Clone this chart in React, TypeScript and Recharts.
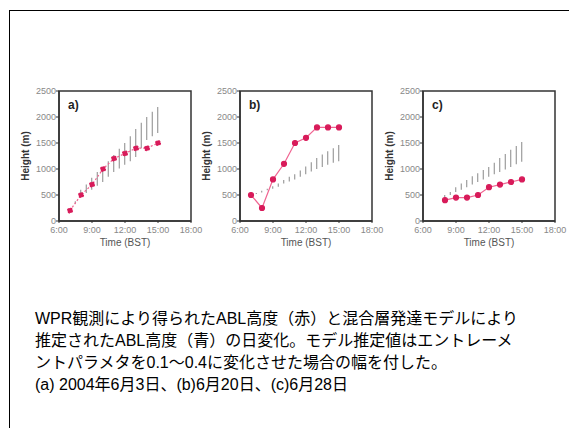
import { ComposedChart, Bar, Line, XAxis, YAxis, ReferenceArea } from 'recharts'

// time axis (hours)
const xTicks = [6, 9, 12, 15, 18]
const yTicks = [0, 500, 1000, 1500, 2000, 2500]

// (a) 2004/6/3
const aObsTime = [7, 8, 9, 10, 11, 12, 13, 14, 15]
const aObs = [200, 500, 700, 1000, 1200, 1300, 1400, 1400, 1500]
const aModelTime = [7, 7.5, 8, 8.5, 9, 9.5, 10, 10.5, 11, 11.5, 12, 12.5, 13, 13.5, 14, 14.5, 15]
const aModelLow = [190, 330, 460, 540, 600, 680, 750, 850, 940, 1010, 1080, 1150, 1230, 1400, 1560, 1630, 1690]
const aModelHigh = [220, 380, 600, 700, 830, 940, 1040, 1150, 1270, 1390, 1500, 1630, 1770, 1890, 2000, 2100, 2190]

// (b) 2004/6/20
const bObsTime = [7, 8, 9, 10, 11, 12, 13, 14, 15]
const bObs = [500, 250, 800, 1100, 1500, 1600, 1800, 1800, 1800]
const bModelTime = [7, 7.5, 8, 8.5, 9, 9.5, 10, 10.5, 11, 11.5, 12, 12.5, 13, 13.5, 14, 14.5, 15]
const bModelLow = [490, 520, 550, 590, 620, 660, 720, 760, 800, 850, 900, 950, 1000, 1040, 1080, 1120, 1150]
const bModelHigh = [510, 540, 580, 620, 670, 720, 790, 850, 900, 970, 1050, 1130, 1210, 1280, 1340, 1400, 1460]

// (c) 2004/6/28
const cObsTime = [8, 9, 10, 11, 12, 13, 14, 15]
const cObs = [400, 450, 450, 500, 650, 700, 750, 800]
const cModelTime = [8, 8.5, 9, 9.5, 10, 10.5, 11, 11.5, 12, 12.5, 13, 13.5, 14, 14.5, 15]
const cModelLow = [450, 500, 560, 600, 650, 700, 750, 800, 850, 900, 940, 990, 1040, 1090, 1140]
const cModelHigh = [500, 560, 650, 720, 790, 860, 920, 980, 1040, 1120, 1210, 1290, 1370, 1440, 1520]

const captionLines = [
  'WPR観測により得られたABL高度（赤）と混合層発達モデルにより',
  '推定されたABL高度（青）の日変化。モデル推定値はエントレーメ',
  'ントパラメタを0.1～0.4に変化させた場合の幅を付した。',
  '(a) 2004年6月3日、(b)6月20日、(c)6月28日',
]

const buildRows = (obsT, obs, modT, lo, hi) => {
  const times = Array.from(new Set([...obsT, ...modT])).sort((p, q) => p - q)
  return times.map((t) => {
    const oi = obsT.indexOf(t)
    const mi = modT.indexOf(t)
    return {
      t,
      obs: oi >= 0 ? obs[oi] : null,
      range: mi >= 0 ? [lo[mi], hi[mi]] : null,
    }
  })
}

const font = 'Liberation Sans, Arial, sans-serif'
const tickStyle = { fontSize: 9, fill: '#888', fontFamily: font }

const Panel = ({ rows, left, tag, dashed }) => (
  <div style={{ position: 'absolute', left: left - 44, top: 85 }}>
    <ComposedChart width={192} height={166} data={rows} margin={{ top: 6, right: 16, bottom: 0, left: 0 }}>
      <XAxis
        dataKey="t"
        type="number"
        domain={[6, 18]}
        ticks={xTicks}
        tickFormatter={(v) => `${v}:00`}
        tick={tickStyle}
        tickSize={2}
        tickMargin={4}
        height={30}
        interval={0}
        axisLine={{ stroke: '#333', strokeWidth: 1.5 }}
        tickLine={{ stroke: '#333' }}
        label={{ value: 'Time (BST)', position: 'insideBottom', offset: 5, style: { fontSize: 10, fill: '#555', fontFamily: font } }}
      />
      <YAxis
        type="number"
        domain={[0, 2500]}
        ticks={yTicks}
        tick={tickStyle}
        tickSize={3}
        tickMargin={0}
        width={44}
        interval={0}
        axisLine={{ stroke: '#333', strokeWidth: 1.5 }}
        tickLine={{ stroke: '#333' }}
        label={{ value: 'Height (m)', angle: -90, position: 'insideLeft', offset: 10, style: { textAnchor: 'middle', fontSize: 10, fontWeight: 'bold', fill: '#333', fontFamily: font } }}
      />
      <ReferenceArea
        x1={6}
        x2={18}
        y1={0}
        y2={2500}
        fill="none"
        stroke="#333"
        strokeWidth={1.5}
        label={{ value: tag, position: 'insideTopLeft', offset: 9, style: { fontSize: 12, fontWeight: 'bold', fill: '#222', fontFamily: font } }}
      />
      <Bar dataKey="range" barSize={1} fill="#888" isAnimationActive={false} />
      <Line
        dataKey="obs"
        connectNulls
        stroke="#f06592"
        strokeWidth={1.2}
        strokeDasharray={dashed ? '2 2' : undefined}
        dot={{ r: 2.5, fill: '#d81b5a', stroke: '#d81b5a' }}
        isAnimationActive={false}
      />
    </ComposedChart>
  </div>
)

export default function App() {
  const aRows = buildRows(aObsTime, aObs, aModelTime, aModelLow, aModelHigh)
  const bRows = buildRows(bObsTime, bObs, bModelTime, bModelLow, bModelHigh)
  const cRows = buildRows(cObsTime, cObs, cModelTime, cModelLow, cModelHigh)

  return (
    <div style={{ position: 'fixed', left: 0, top: 0, width: 569, height: 428, background: '#fff', overflow: 'hidden' }}>
      <div style={{ position: 'absolute', left: 9, top: 10, width: 560, height: 418, borderTop: '1px solid #000', borderLeft: '1px solid #000' }} />
      <Panel rows={aRows} left={59} tag="a)" dashed />
      <Panel rows={bRows} left={240} tag="b)" />
      <Panel rows={cRows} left={423} tag="c)" />
      <div style={{ position: 'absolute', left: 35, top: 308, fontSize: 16, lineHeight: '22px', color: '#000', fontFamily: "'Liberation Sans', Arial, 'Noto Sans CJK JP', sans-serif", whiteSpace: 'nowrap' }}>
        {captionLines.map((s, i) => (
          <div key={i}>{s}</div>
        ))}
      </div>
    </div>
  )
}
